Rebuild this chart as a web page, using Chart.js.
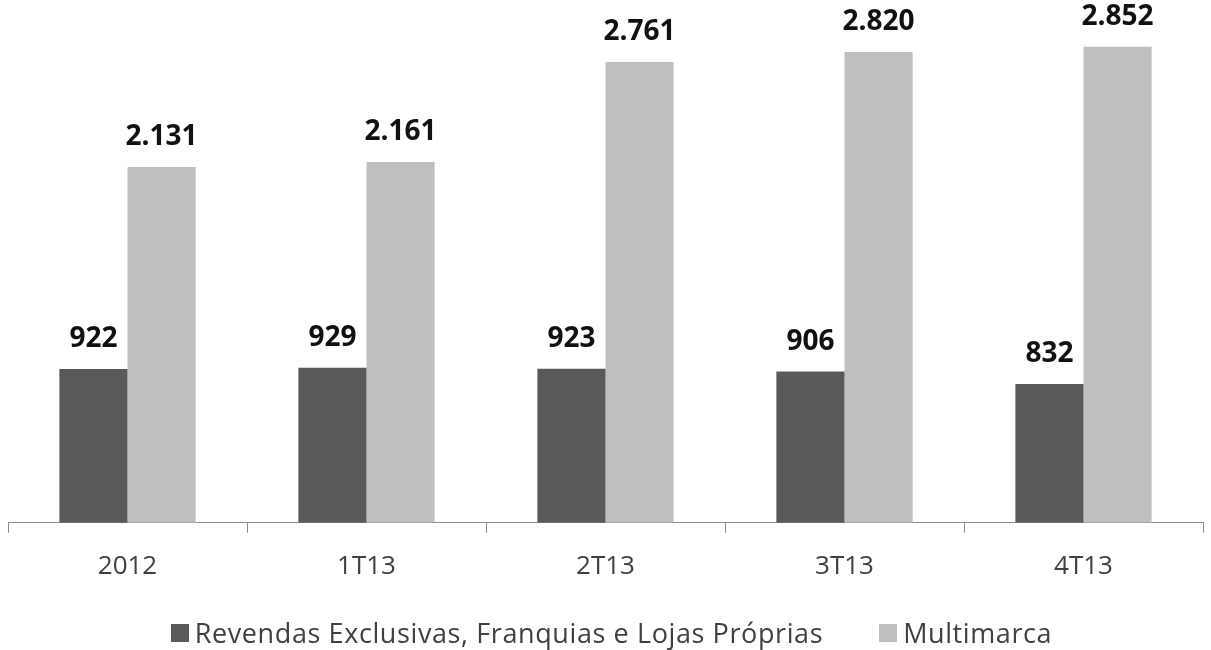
<!DOCTYPE html>
<html>
<head>
<meta charset="utf-8">
<script src="https://cdn.jsdelivr.net/npm/chart.js@4/dist/chart.umd.min.js"></script>
<style>
  html, body { margin: 0; padding: 0; background: #fff; }
  #wrap { position: relative; width: 1211px; height: 650px; }
  #legend {
    position: absolute; left: 6px; top: 614px; width: 1211px;
    display: flex; justify-content: center; gap: 56px;
    font-family: 'Open Sans', sans-serif; font-size: 27px; letter-spacing: 0.6px; color: #404040;
  }
  .item { display: flex; align-items: center; }
  .box { width: 18px; height: 18px; margin-right: 6px; }
</style>
</head>
<body>
<div id="wrap">
  <canvas id="chart" width="1211" height="650"></canvas>
  <div id="legend"></div>
</div>
<script>
const categories = ['2012', '1T13', '2T13', '3T13', '4T13'];
const revendas = [922, 929, 923, 906, 832];
const multimarca = [2131, 2161, 2761, 2820, 2852];
const seriesNames = ['Revendas Exclusivas, Franquias e Lojas Próprias', 'Multimarca'];
const seriesColors = ['#595959', '#bfbfbf'];

// 2131 -> "2.131"
const fmt = (v) => String(v).replace(/\B(?=(\d{3})+(?!\d))/g, '.');

const valueLabels = {
    id: 'valueLabels',
    afterDatasetsDraw(chart) {
        const ctx = chart.ctx;
        ctx.save();
        ctx.font = "bold 28px 'Open Sans', sans-serif";
        ctx.fillStyle = '#111';
        ctx.textAlign = 'center';
        ctx.textBaseline = 'bottom';
        chart.data.datasets.forEach((ds, i) => {
            chart.getDatasetMeta(i).data.forEach((bar, j) => {
                ctx.fillText(fmt(ds.data[j]), bar.x, bar.y - 16);
            });
        });
        ctx.restore();
    }
};

const chart = new Chart(document.getElementById('chart'), {
    type: 'bar',
    data: {
        labels: categories,
        datasets: [
            { label: seriesNames[0], data: revendas, backgroundColor: seriesColors[0] },
            { label: seriesNames[1], data: multimarca, backgroundColor: seriesColors[1] }
        ]
    },
    options: {
        responsive: false,
        animation: false,
        layout: { padding: { left: 8, right: 8, top: 22, bottom: 50 } },
        datasets: { bar: { barPercentage: 1, categoryPercentage: 0.57 } },
        scales: {
            y: { display: false, min: 0, max: 3000 },
            x: {
                grid: { drawOnChartArea: false, drawTicks: true, tickLength: 10, color: '#8c8c8c', offset: true },
                border: { display: true, color: '#8c8c8c', width: 1 },
                ticks: { color: '#404040', padding: 18, font: { family: "'Open Sans', sans-serif", size: 26 } }
            }
        },
        plugins: { legend: { display: false }, tooltip: { enabled: false } }
    },
    plugins: [valueLabels]
});

// HTML legend built from the chart's datasets
const legendEl = document.getElementById('legend');
chart.data.datasets.forEach((ds) => {
    const item = document.createElement('div');
    item.className = 'item';
    const box = document.createElement('span');
    box.className = 'box';
    box.style.background = ds.backgroundColor;
    const txt = document.createElement('span');
    txt.textContent = ds.label;
    item.appendChild(box);
    item.appendChild(txt);
    legendEl.appendChild(item);
});
</script>
</body>
</html>
